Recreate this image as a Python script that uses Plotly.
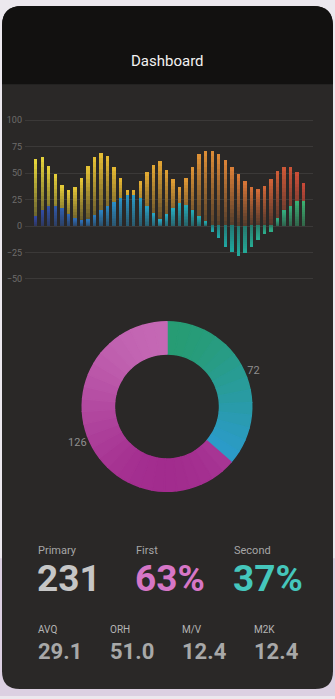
import math
import plotly.graph_objects as go

W, H = 335, 699

# ---------------- data ----------------
bar_index = list(range(42))
series_a = [63, 65, 57, 49, 39, 34, 37, 45, 57, 65, 69, 66, 56, 45, 34, 34, 42, 51, 58, 61, 53,
            44, 37, 45, 56, 68, 71, 71, 68, 62, 56, 49, 42, 37, 35, 38, 44, 52, 56, 56, 51, 41]
series_b = [9, 15, 19, 19, 17, 11, 7, 5, 6, 10, 15, 19, 23, 26, 29, 29, 26, 19, 12, 6, 11,
            17, 22, 20, 15, 9, 4, -5, -11, -20, -25, -28, -26, -20, -13, -7, -5, 7, 15, 19, 24, 24]
y_ticks = [-50, -25, 0, 25, 50, 75, 100]

donut_labels = ["Second", "First"]
donut_values = [72, 126]

top_labels = ["Primary", "First", "Second"]
top_values = ["231", "63%", "37%"]
bottom_labels = ["AVQ", "ORH", "M/V", "M2K"]
bottom_values = ["29.1", "51.0", "12.4", "12.4"]

# ---------------- styles ----------------
FONT = "Roboto"
BG = (42, 40, 39)
stops_a = [(0, "#e9d93c"), (14, "#e8b631"), (28, "#e08a37"), (41, "#cc4a38")]
stops_b = [(0, "#3247a3"), (12, "#2b8fc8"), (20, "#27aec6"), (30, "#1fa8a0"), (41, "#3cb272")]
donut_grad = [("#279c74", "#2b9bcb"), ("#c468b4", "#a22c8e")]
donut_steps = [15, 27]   # slices drawn in odd numbers of equal pieces to show a gradient


def hex2rgb(h):
    h = h.lstrip("#")
    return tuple(int(h[i:i + 2], 16) for i in (0, 2, 4))


def mix(c1, c2, t):
    return tuple(c1[j] + (c2[j] - c1[j]) * t for j in range(3))


def along(stops, i):
    for (i0, c0), (i1, c1) in zip(stops[:-1], stops[1:]):
        if i0 <= i <= i1:
            return mix(hex2rgb(c0), hex2rgb(c1), (i - i0) / (i1 - i0))
    return hex2rgb(stops[-1][1])


def css(c):
    return "rgb(%d,%d,%d)" % tuple(round(v) for v in c)


def px_x(x):
    return x / W


def px_y(y):
    return 1 - y / H


fig = go.Figure()

# gradient bars: each bar split into vertical slices
K = 14
for series, stops, fmin in [(series_a, stops_a, 0.22), (series_b, stops_b, 0.42)]:
    cols = [along(stops, i) for i in bar_index]
    for k in range(K):
        t = (k + 0.5) / K
        base = [v * k / K for v in series]
        ext = 1.04 if k < K - 1 else 1.0
        ys = [v / K * ext for v in series]
        colors = []
        for v, c in zip(series, cols):
            f = fmin + (1 - fmin) * t if v >= 0 else 0.62 + 0.38 * t
            colors.append(css(mix(BG, c, f)))
        fig.add_trace(go.Bar(x=bar_index, y=ys, base=base, width=0.52,
                             marker=dict(color=colors, line=dict(width=0)),
                             showlegend=False, hoverinfo="skip"))

# donut, each slice cut into equal pieces coloured along a vertical gradient
total = sum(donut_values)
p_labels, p_values, p_colors, p_text = [], [], [], []
cum = 0
for name, val, (c_top, c_bot), n in zip(donut_labels, donut_values, donut_grad, donut_steps):
    a0 = cum / total * 2 * math.pi
    a1 = (cum + val) / total * 2 * math.pi
    samples = [-math.cos(a0 + (a1 - a0) * s / 200) for s in range(201)]
    ytop, ybot = min(samples), max(samples)
    for j in range(n):
        am = a0 + (j + 0.5) / n * (a1 - a0)
        t = (-math.cos(am) - ytop) / (ybot - ytop)
        p_labels.append("%s-%d" % (name, j))
        p_values.append(val / n)
        p_colors.append(css(mix(hex2rgb(c_top), hex2rgb(c_bot), t)))
        p_text.append(str(val) if j == n // 2 else "")
    cum += val

fig.add_trace(go.Pie(labels=p_labels, values=p_values, hole=0.62, sort=False,
                     direction="clockwise", rotation=0,
                     marker=dict(colors=p_colors, line=dict(width=1.5, color=p_colors)),
                     text=p_text, textinfo="text", textposition="outside",
                     textfont=dict(family=FONT, size=11, color="#8e8e8e"),
                     domain=dict(x=[px_x(81.5), px_x(252.5)], y=[px_y(492.5), px_y(321.5)]),
                     showlegend=False, hoverinfo="skip"))

# card shapes
def rrect(x0, y0, x1, y1, rt, rb):
    X = lambda v: px_x(v)
    Y = lambda v: px_y(v)
    return (f"M {X(x0)},{Y(y0 + rt)} Q {X(x0)},{Y(y0)} {X(x0 + rt)},{Y(y0)} "
            f"L {X(x1 - rt)},{Y(y0)} Q {X(x1)},{Y(y0)} {X(x1)},{Y(y0 + rt)} "
            f"L {X(x1)},{Y(y1 - rb)} Q {X(x1)},{Y(y1)} {X(x1 - rb)},{Y(y1)} "
            f"L {X(x0 + rb)},{Y(y1)} Q {X(x0)},{Y(y1)} {X(x0)},{Y(y1 - rb)} Z")

shapes = [
    dict(type="rect", xref="paper", yref="paper", x0=0, x1=1, y0=0, y1=px_y(560),
         fillcolor="#dcd0e2", line=dict(width=0), layer="below"),
    dict(type="path", xref="paper", yref="paper", path=rrect(2, 3, 333, 692, 20, 18),
         fillcolor="#2a2827", line=dict(width=0), layer="below"),
    dict(type="path", xref="paper", yref="paper", path=rrect(2, 3, 333, 82, 20, 0),
         fillcolor="#121110", line=dict(width=0), layer="below"),
]

annotations = [dict(text="Dashboard", x=px_x(167.5), y=px_y(59), xref="paper", yref="paper",
                    xanchor="center", yanchor="middle", showarrow=False,
                    font=dict(family=FONT, size=15, color="#f2f2f2"))]

top_x = [37, 135, 233]
top_colors = ["#c6c6c6", "#d676c6", "#45c6bc"]
for lx, lab, val, col in zip(top_x, top_labels, top_values, top_colors):
    annotations.append(dict(text=lab, x=px_x(lx - 1), y=px_y(552.5), xref="paper", yref="paper",
                            xanchor="left", yanchor="middle", showarrow=False,
                            font=dict(family=FONT, size=11, color="#a6a6a6")))
    annotations.append(dict(text="<b>%s</b>" % val, x=px_x(lx - 2), y=px_y(580.5), xref="paper",
                            yref="paper", xanchor="left", yanchor="middle", showarrow=False,
                            font=dict(family=FONT, size=37, color=col)))

bot_x = [37, 109, 181, 253]
for lx, lab, val in zip(bot_x, bottom_labels, bottom_values):
    annotations.append(dict(text=lab, x=px_x(lx - 1), y=px_y(631.5), xref="paper", yref="paper",
                            xanchor="left", yanchor="middle", showarrow=False,
                            font=dict(family=FONT, size=10, color="#b4b4b4")))
    annotations.append(dict(text="<b>%s</b>" % val, x=px_x(lx - 1.5), y=px_y(654), xref="paper",
                            yref="paper", xanchor="left", yanchor="middle", showarrow=False,
                            font=dict(family=FONT, size=22, color="#a8a8a8")))

fig.update_layout(
    width=W, height=H, margin=dict(l=0, r=0, t=0, b=0, pad=0),
    paper_bgcolor="#ece8ee", plot_bgcolor="rgba(0,0,0,0)",
    barmode="overlay", bargap=0, showlegend=False,
    font=dict(family=FONT),
    shapes=shapes, annotations=annotations,
    xaxis=dict(domain=[px_x(25), px_x(313)], range=[-1.64, 42.42], visible=False, fixedrange=True),
    yaxis=dict(domain=[px_y(280.5), px_y(116.2)], range=[-52, 102], tickvals=y_ticks,
               showgrid=True, gridcolor="#3b3938", gridwidth=1, zeroline=False,
               showline=False, ticks="", tickfont=dict(family=FONT, size=9, color="#6e6c6b"),
               ticklabelstandoff=2, fixedrange=True),
)

fig.write_html("out.html")
